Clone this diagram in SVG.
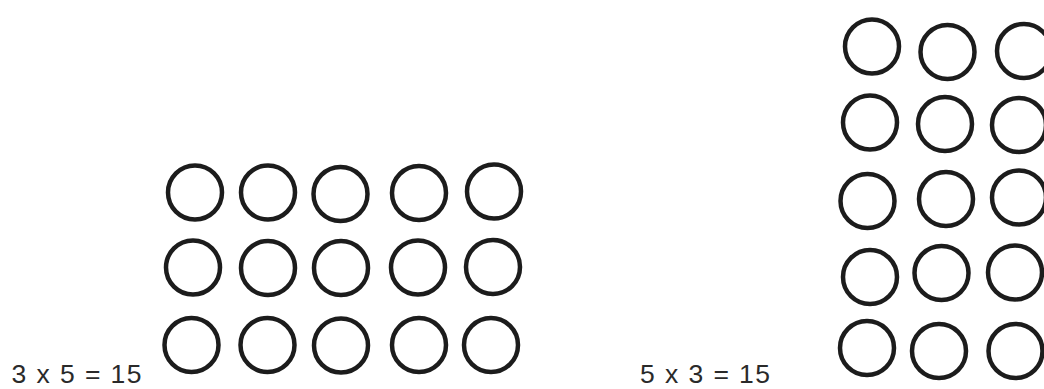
<svg xmlns="http://www.w3.org/2000/svg" width="1044" height="389" viewBox="0 0 1044 389">
<style>
  .c { fill: none; stroke: #1c1c1c; stroke-width: 4.5; }
  .t { font-family: "Liberation Sans", Arial, sans-serif; font-size: 26.5px; fill: #2a2a2a; }
</style>
<rect width="1044" height="389" fill="#ffffff"/>
<g id="left-array">
  <g id="L-r1c1"><circle class="c" cx="195" cy="192.5" r="27"/></g>
  <g id="L-r1c2"><circle class="c" cx="268" cy="192.5" r="27"/></g>
  <g id="L-r1c3"><circle class="c" cx="340.5" cy="194" r="27"/></g>
  <g id="L-r1c4"><circle class="c" cx="419" cy="193" r="27"/></g>
  <g id="L-r1c5"><circle class="c" cx="494" cy="191.5" r="27"/></g>
  <g id="L-r2c1"><circle class="c" cx="193" cy="267.5" r="27"/></g>
  <g id="L-r2c2"><circle class="c" cx="268" cy="268" r="27"/></g>
  <g id="L-r2c3"><circle class="c" cx="341" cy="268" r="27"/></g>
  <g id="L-r2c4"><circle class="c" cx="418" cy="267.5" r="27"/></g>
  <g id="L-r2c5"><circle class="c" cx="493" cy="267" r="27"/></g>
  <g id="L-r3c1"><circle class="c" cx="191.5" cy="345" r="27"/></g>
  <g id="L-r3c2"><circle class="c" cx="267.5" cy="345" r="27"/></g>
  <g id="L-r3c3"><circle class="c" cx="341" cy="345.5" r="27"/></g>
  <g id="L-r3c4"><circle class="c" cx="419" cy="345" r="27"/></g>
  <g id="L-r3c5"><circle class="c" cx="491" cy="345" r="27"/></g>
</g>
<g id="right-array">
  <g id="R-r1c1"><circle class="c" cx="872" cy="46.5" r="27"/></g>
  <g id="R-r1c2"><circle class="c" cx="947.5" cy="52" r="27"/></g>
  <g id="R-r1c3"><circle class="c" cx="1024" cy="51" r="27"/></g>
  <g id="R-r2c1"><circle class="c" cx="870" cy="122.5" r="27"/></g>
  <g id="R-r2c2"><circle class="c" cx="945" cy="124" r="27"/></g>
  <g id="R-r2c3"><circle class="c" cx="1019" cy="125" r="27"/></g>
  <g id="R-r3c1"><circle class="c" cx="867.5" cy="201" r="27"/></g>
  <g id="R-r3c2"><circle class="c" cx="946" cy="199" r="27"/></g>
  <g id="R-r3c3"><circle class="c" cx="1019" cy="197.5" r="27"/></g>
  <g id="R-r4c1"><circle class="c" cx="870" cy="277" r="27"/></g>
  <g id="R-r4c2"><circle class="c" cx="941.5" cy="273" r="27"/></g>
  <g id="R-r4c3"><circle class="c" cx="1015" cy="272.5" r="27"/></g>
  <g id="R-r5c1"><circle class="c" cx="867" cy="348" r="27"/></g>
  <g id="R-r5c2"><circle class="c" cx="939" cy="351" r="27"/></g>
  <g id="R-r5c3"><circle class="c" cx="1015.5" cy="351" r="27"/></g>
</g>
<g id="labels">
  <text class="t" x="11.5" y="383" textLength="130" lengthAdjust="spacing">3 x 5 = 15</text>
  <text class="t" x="640" y="383" textLength="130" lengthAdjust="spacing">5 x 3 = 15</text>
</g>
</svg>
